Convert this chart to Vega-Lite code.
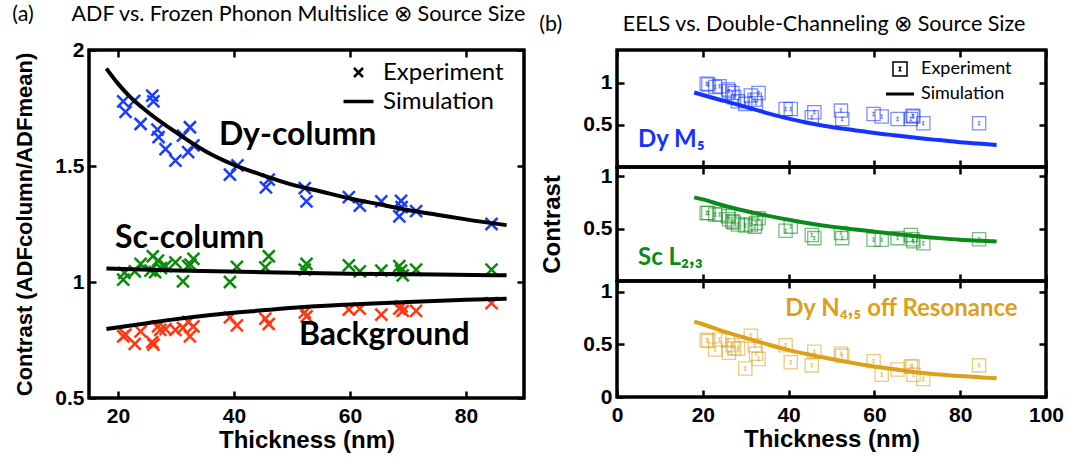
{
  "$schema": "https://vega.github.io/schema/vega-lite/v6.json",
  "padding": {"left": 12, "top": 4, "right": 4, "bottom": 4},
  "config": {
    "view": {"stroke": "black", "strokeWidth": 3},
    "axis": {"domain": false, "grid": false, "tickColor": "black", "tickWidth": 2.5, "tickSize": 7, "offset": -7, "labelPadding": 5, "labelFlush": false, "labelFont": "Liberation Sans", "labelFontWeight": "bold", "labelFontSize": 21, "labelColor": "black", "titleFont": "Liberation Sans", "titleFontWeight": "bold", "titleFontSize": 24, "titleColor": "black"},
    "axisY": {"titlePadding": 18},
    "axisX": {"titlePadding": 2, "labelPadding": 7},
    "title": {"font": "Lato", "fontSize": 21.5, "fontWeight": "normal", "color": "black", "anchor": "start", "frame": "bounds", "offset": 12}
  },
  "datasets": {
    "adf": [
      {"s": "Dy-column", "kind": "Experiment", "t": 20.9, "c": 1.779}, {"s": "Dy-column", "kind": "Experiment", "t": 21.3, "c": 1.733},
      {"s": "Dy-column", "kind": "Experiment", "t": 22.8, "c": 1.781}, {"s": "Dy-column", "kind": "Experiment", "t": 23.9, "c": 1.681},
      {"s": "Dy-column", "kind": "Experiment", "t": 25.9, "c": 1.803}, {"s": "Dy-column", "kind": "Experiment", "t": 26.1, "c": 1.779},
      {"s": "Dy-column", "kind": "Experiment", "t": 26.8, "c": 1.657}, {"s": "Dy-column", "kind": "Experiment", "t": 27.0, "c": 1.624},
      {"s": "Dy-column", "kind": "Experiment", "t": 28.2, "c": 1.573}, {"s": "Dy-column", "kind": "Experiment", "t": 29.9, "c": 1.523},
      {"s": "Dy-column", "kind": "Experiment", "t": 31.2, "c": 1.631}, {"s": "Dy-column", "kind": "Experiment", "t": 32.4, "c": 1.667},
      {"s": "Dy-column", "kind": "Experiment", "t": 32.1, "c": 1.560}, {"s": "Dy-column", "kind": "Experiment", "t": 33.0, "c": 1.589},
      {"s": "Dy-column", "kind": "Experiment", "t": 39.3, "c": 1.463}, {"s": "Dy-column", "kind": "Experiment", "t": 40.6, "c": 1.503},
      {"s": "Dy-column", "kind": "Experiment", "t": 45.5, "c": 1.408}, {"s": "Dy-column", "kind": "Experiment", "t": 46.0, "c": 1.441},
      {"s": "Dy-column", "kind": "Experiment", "t": 52.2, "c": 1.405}, {"s": "Dy-column", "kind": "Experiment", "t": 52.5, "c": 1.348},
      {"s": "Dy-column", "kind": "Experiment", "t": 59.8, "c": 1.366}, {"s": "Dy-column", "kind": "Experiment", "t": 61.7, "c": 1.329},
      {"s": "Dy-column", "kind": "Experiment", "t": 65.4, "c": 1.348}, {"s": "Dy-column", "kind": "Experiment", "t": 68.8, "c": 1.350},
      {"s": "Dy-column", "kind": "Experiment", "t": 68.9, "c": 1.323}, {"s": "Dy-column", "kind": "Experiment", "t": 68.5, "c": 1.283},
      {"s": "Dy-column", "kind": "Experiment", "t": 71.4, "c": 1.305}, {"s": "Dy-column", "kind": "Experiment", "t": 84.4, "c": 1.250},
      {"s": "Sc-column", "kind": "Experiment", "t": 20.9, "c": 1.010}, {"s": "Sc-column", "kind": "Experiment", "t": 21.1, "c": 1.039},
      {"s": "Sc-column", "kind": "Experiment", "t": 22.9, "c": 1.046}, {"s": "Sc-column", "kind": "Experiment", "t": 23.9, "c": 1.078},
      {"s": "Sc-column", "kind": "Experiment", "t": 25.6, "c": 1.049}, {"s": "Sc-column", "kind": "Experiment", "t": 26.0, "c": 1.111},
      {"s": "Sc-column", "kind": "Experiment", "t": 26.4, "c": 1.043}, {"s": "Sc-column", "kind": "Experiment", "t": 26.9, "c": 1.092},
      {"s": "Sc-column", "kind": "Experiment", "t": 27.4, "c": 1.060}, {"s": "Sc-column", "kind": "Experiment", "t": 28.2, "c": 1.068},
      {"s": "Sc-column", "kind": "Experiment", "t": 29.9, "c": 1.085}, {"s": "Sc-column", "kind": "Experiment", "t": 31.2, "c": 1.003},
      {"s": "Sc-column", "kind": "Experiment", "t": 32.1, "c": 1.068}, {"s": "Sc-column", "kind": "Experiment", "t": 32.5, "c": 1.075},
      {"s": "Sc-column", "kind": "Experiment", "t": 33.0, "c": 1.100}, {"s": "Sc-column", "kind": "Experiment", "t": 39.3, "c": 1.000},
      {"s": "Sc-column", "kind": "Experiment", "t": 40.5, "c": 1.065}, {"s": "Sc-column", "kind": "Experiment", "t": 45.4, "c": 1.063},
      {"s": "Sc-column", "kind": "Experiment", "t": 46.0, "c": 1.111}, {"s": "Sc-column", "kind": "Experiment", "t": 52.2, "c": 1.053},
      {"s": "Sc-column", "kind": "Experiment", "t": 52.5, "c": 1.078}, {"s": "Sc-column", "kind": "Experiment", "t": 59.8, "c": 1.072},
      {"s": "Sc-column", "kind": "Experiment", "t": 61.7, "c": 1.046}, {"s": "Sc-column", "kind": "Experiment", "t": 65.4, "c": 1.049},
      {"s": "Sc-column", "kind": "Experiment", "t": 68.5, "c": 1.068}, {"s": "Sc-column", "kind": "Experiment", "t": 68.8, "c": 1.049},
      {"s": "Sc-column", "kind": "Experiment", "t": 69.1, "c": 1.029}, {"s": "Sc-column", "kind": "Experiment", "t": 71.4, "c": 1.053},
      {"s": "Sc-column", "kind": "Experiment", "t": 84.4, "c": 1.053},
      {"s": "Background", "kind": "Experiment", "t": 20.9, "c": 0.766}, {"s": "Background", "kind": "Experiment", "t": 21.3, "c": 0.773},
      {"s": "Background", "kind": "Experiment", "t": 22.9, "c": 0.733}, {"s": "Background", "kind": "Experiment", "t": 23.9, "c": 0.787},
      {"s": "Background", "kind": "Experiment", "t": 25.9, "c": 0.741}, {"s": "Background", "kind": "Experiment", "t": 26.1, "c": 0.730},
      {"s": "Background", "kind": "Experiment", "t": 26.9, "c": 0.809}, {"s": "Background", "kind": "Experiment", "t": 27.3, "c": 0.794},
      {"s": "Background", "kind": "Experiment", "t": 28.2, "c": 0.797}, {"s": "Background", "kind": "Experiment", "t": 29.9, "c": 0.794},
      {"s": "Background", "kind": "Experiment", "t": 31.2, "c": 0.802}, {"s": "Background", "kind": "Experiment", "t": 32.1, "c": 0.828},
      {"s": "Background", "kind": "Experiment", "t": 32.4, "c": 0.766}, {"s": "Background", "kind": "Experiment", "t": 33.0, "c": 0.809},
      {"s": "Background", "kind": "Experiment", "t": 39.3, "c": 0.848}, {"s": "Background", "kind": "Experiment", "t": 40.5, "c": 0.813},
      {"s": "Background", "kind": "Experiment", "t": 45.4, "c": 0.842}, {"s": "Background", "kind": "Experiment", "t": 46.0, "c": 0.819},
      {"s": "Background", "kind": "Experiment", "t": 52.2, "c": 0.869}, {"s": "Background", "kind": "Experiment", "t": 52.5, "c": 0.852},
      {"s": "Background", "kind": "Experiment", "t": 59.8, "c": 0.881}, {"s": "Background", "kind": "Experiment", "t": 61.7, "c": 0.885},
      {"s": "Background", "kind": "Experiment", "t": 65.4, "c": 0.859}, {"s": "Background", "kind": "Experiment", "t": 68.5, "c": 0.885},
      {"s": "Background", "kind": "Experiment", "t": 68.9, "c": 0.895}, {"s": "Background", "kind": "Experiment", "t": 69.1, "c": 0.876},
      {"s": "Background", "kind": "Experiment", "t": 71.4, "c": 0.876}, {"s": "Background", "kind": "Experiment", "t": 84.4, "c": 0.909}
    ],
    "adfsim": [
      {"s": "Dy-column", "t": 18, "c": 1.92}, {"s": "Dy-column", "t": 20, "c": 1.855}, {"s": "Dy-column", "t": 22, "c": 1.80},
      {"s": "Dy-column", "t": 25, "c": 1.735}, {"s": "Dy-column", "t": 30, "c": 1.645}, {"s": "Dy-column", "t": 35, "c": 1.565},
      {"s": "Dy-column", "t": 40, "c": 1.505}, {"s": "Dy-column", "t": 45, "c": 1.46}, {"s": "Dy-column", "t": 50, "c": 1.42},
      {"s": "Dy-column", "t": 55, "c": 1.39}, {"s": "Dy-column", "t": 60, "c": 1.36}, {"s": "Dy-column", "t": 65, "c": 1.335},
      {"s": "Dy-column", "t": 70, "c": 1.31}, {"s": "Dy-column", "t": 75, "c": 1.29}, {"s": "Dy-column", "t": 80, "c": 1.27},
      {"s": "Dy-column", "t": 87, "c": 1.245},
      {"s": "Sc-column", "t": 18, "c": 1.058}, {"s": "Sc-column", "t": 30, "c": 1.05}, {"s": "Sc-column", "t": 45, "c": 1.042},
      {"s": "Sc-column", "t": 60, "c": 1.036}, {"s": "Sc-column", "t": 75, "c": 1.032}, {"s": "Sc-column", "t": 87, "c": 1.029},
      {"s": "Background", "t": 18, "c": 0.797}, {"s": "Background", "t": 25, "c": 0.822}, {"s": "Background", "t": 30, "c": 0.84},
      {"s": "Background", "t": 36, "c": 0.858}, {"s": "Background", "t": 45, "c": 0.878}, {"s": "Background", "t": 52, "c": 0.892},
      {"s": "Background", "t": 60, "c": 0.903}, {"s": "Background", "t": 70, "c": 0.914}, {"s": "Background", "t": 80, "c": 0.923},
      {"s": "Background", "t": 87, "c": 0.928}
    ],
    "adfnote": [
      {"label": "Dy-column", "t": 37.4, "c": 1.634},
      {"label": "Sc-column", "t": 19.5, "c": 1.19},
      {"label": "Background", "t": 51.2, "c": 0.773}
    ],
    "eels": [
      {"e": "M5", "kind": "Experiment", "t": 20.9, "v": 0.99}, {"e": "M5", "kind": "Experiment", "t": 21.3, "v": 0.98},
      {"e": "M5", "kind": "Experiment", "t": 22.9, "v": 0.95}, {"e": "M5", "kind": "Experiment", "t": 23.9, "v": 0.96},
      {"e": "M5", "kind": "Experiment", "t": 25.9, "v": 0.92}, {"e": "M5", "kind": "Experiment", "t": 26.1, "v": 0.90},
      {"e": "M5", "kind": "Experiment", "t": 26.9, "v": 0.88}, {"e": "M5", "kind": "Experiment", "t": 27.3, "v": 0.83},
      {"e": "M5", "kind": "Experiment", "t": 28.2, "v": 0.78}, {"e": "M5", "kind": "Experiment", "t": 29.9, "v": 0.75},
      {"e": "M5", "kind": "Experiment", "t": 31.2, "v": 0.85}, {"e": "M5", "kind": "Experiment", "t": 32.1, "v": 0.80},
      {"e": "M5", "kind": "Experiment", "t": 32.4, "v": 0.76}, {"e": "M5", "kind": "Experiment", "t": 33.0, "v": 0.88},
      {"e": "M5", "kind": "Experiment", "t": 39.3, "v": 0.69}, {"e": "M5", "kind": "Experiment", "t": 40.5, "v": 0.69},
      {"e": "M5", "kind": "Experiment", "t": 45.4, "v": 0.59}, {"e": "M5", "kind": "Experiment", "t": 46.0, "v": 0.65},
      {"e": "M5", "kind": "Experiment", "t": 52.2, "v": 0.67}, {"e": "M5", "kind": "Experiment", "t": 52.5, "v": 0.57},
      {"e": "M5", "kind": "Experiment", "t": 59.8, "v": 0.63}, {"e": "M5", "kind": "Experiment", "t": 61.7, "v": 0.60},
      {"e": "M5", "kind": "Experiment", "t": 65.4, "v": 0.57}, {"e": "M5", "kind": "Experiment", "t": 68.5, "v": 0.57},
      {"e": "M5", "kind": "Experiment", "t": 68.9, "v": 0.61}, {"e": "M5", "kind": "Experiment", "t": 69.1, "v": 0.60},
      {"e": "M5", "kind": "Experiment", "t": 71.4, "v": 0.52}, {"e": "M5", "kind": "Experiment", "t": 84.4, "v": 0.52},
      {"e": "L23", "kind": "Experiment", "t": 20.9, "v": 0.65}, {"e": "L23", "kind": "Experiment", "t": 21.3, "v": 0.65},
      {"e": "L23", "kind": "Experiment", "t": 22.9, "v": 0.635}, {"e": "L23", "kind": "Experiment", "t": 23.9, "v": 0.635},
      {"e": "L23", "kind": "Experiment", "t": 25.9, "v": 0.62}, {"e": "L23", "kind": "Experiment", "t": 26.1, "v": 0.59},
      {"e": "L23", "kind": "Experiment", "t": 26.9, "v": 0.57}, {"e": "L23", "kind": "Experiment", "t": 27.3, "v": 0.56},
      {"e": "L23", "kind": "Experiment", "t": 28.2, "v": 0.54}, {"e": "L23", "kind": "Experiment", "t": 29.9, "v": 0.53},
      {"e": "L23", "kind": "Experiment", "t": 31.2, "v": 0.54}, {"e": "L23", "kind": "Experiment", "t": 32.1, "v": 0.52},
      {"e": "L23", "kind": "Experiment", "t": 32.4, "v": 0.555}, {"e": "L23", "kind": "Experiment", "t": 33.0, "v": 0.60},
      {"e": "L23", "kind": "Experiment", "t": 39.3, "v": 0.48}, {"e": "L23", "kind": "Experiment", "t": 40.5, "v": 0.52},
      {"e": "L23", "kind": "Experiment", "t": 45.4, "v": 0.44}, {"e": "L23", "kind": "Experiment", "t": 46.0, "v": 0.41},
      {"e": "L23", "kind": "Experiment", "t": 52.2, "v": 0.46}, {"e": "L23", "kind": "Experiment", "t": 52.5, "v": 0.41},
      {"e": "L23", "kind": "Experiment", "t": 59.8, "v": 0.395}, {"e": "L23", "kind": "Experiment", "t": 61.7, "v": 0.395},
      {"e": "L23", "kind": "Experiment", "t": 65.4, "v": 0.41}, {"e": "L23", "kind": "Experiment", "t": 68.5, "v": 0.44},
      {"e": "L23", "kind": "Experiment", "t": 68.9, "v": 0.40}, {"e": "L23", "kind": "Experiment", "t": 69.1, "v": 0.38},
      {"e": "L23", "kind": "Experiment", "t": 71.4, "v": 0.36}, {"e": "L23", "kind": "Experiment", "t": 84.4, "v": 0.40},
      {"e": "N45", "kind": "Experiment", "t": 20.9, "v": 0.54}, {"e": "N45", "kind": "Experiment", "t": 21.3, "v": 0.53},
      {"e": "N45", "kind": "Experiment", "t": 22.9, "v": 0.45}, {"e": "N45", "kind": "Experiment", "t": 23.9, "v": 0.545},
      {"e": "N45", "kind": "Experiment", "t": 25.9, "v": 0.535}, {"e": "N45", "kind": "Experiment", "t": 26.1, "v": 0.42},
      {"e": "N45", "kind": "Experiment", "t": 26.9, "v": 0.49}, {"e": "N45", "kind": "Experiment", "t": 27.3, "v": 0.46},
      {"e": "N45", "kind": "Experiment", "t": 28.2, "v": 0.46}, {"e": "N45", "kind": "Experiment", "t": 29.9, "v": 0.27},
      {"e": "N45", "kind": "Experiment", "t": 31.2, "v": 0.58}, {"e": "N45", "kind": "Experiment", "t": 32.1, "v": 0.49},
      {"e": "N45", "kind": "Experiment", "t": 32.4, "v": 0.41}, {"e": "N45", "kind": "Experiment", "t": 33.0, "v": 0.36},
      {"e": "N45", "kind": "Experiment", "t": 39.3, "v": 0.49}, {"e": "N45", "kind": "Experiment", "t": 40.5, "v": 0.33},
      {"e": "N45", "kind": "Experiment", "t": 45.4, "v": 0.30}, {"e": "N45", "kind": "Experiment", "t": 46.0, "v": 0.43},
      {"e": "N45", "kind": "Experiment", "t": 52.2, "v": 0.41}, {"e": "N45", "kind": "Experiment", "t": 52.5, "v": 0.39},
      {"e": "N45", "kind": "Experiment", "t": 59.8, "v": 0.34}, {"e": "N45", "kind": "Experiment", "t": 61.7, "v": 0.21},
      {"e": "N45", "kind": "Experiment", "t": 65.4, "v": 0.26}, {"e": "N45", "kind": "Experiment", "t": 68.5, "v": 0.29},
      {"e": "N45", "kind": "Experiment", "t": 68.9, "v": 0.29}, {"e": "N45", "kind": "Experiment", "t": 69.1, "v": 0.21},
      {"e": "N45", "kind": "Experiment", "t": 71.4, "v": 0.17}, {"e": "N45", "kind": "Experiment", "t": 84.4, "v": 0.30}
    ],
    "eelssim": [
      {"e": "M5", "t": 18, "v": 0.885}, {"e": "M5", "t": 20, "v": 0.855}, {"e": "M5", "t": 25, "v": 0.785}, {"e": "M5", "t": 30, "v": 0.715},
      {"e": "M5", "t": 35, "v": 0.64}, {"e": "M5", "t": 40, "v": 0.575}, {"e": "M5", "t": 45, "v": 0.52}, {"e": "M5", "t": 50, "v": 0.475},
      {"e": "M5", "t": 55, "v": 0.44}, {"e": "M5", "t": 60, "v": 0.405}, {"e": "M5", "t": 65, "v": 0.375}, {"e": "M5", "t": 70, "v": 0.345},
      {"e": "M5", "t": 75, "v": 0.32}, {"e": "M5", "t": 80, "v": 0.295}, {"e": "M5", "t": 85, "v": 0.275}, {"e": "M5", "t": 88.5, "v": 0.262},
      {"e": "L23", "t": 18, "v": 0.80}, {"e": "L23", "t": 20, "v": 0.78}, {"e": "L23", "t": 25, "v": 0.72}, {"e": "L23", "t": 30, "v": 0.67},
      {"e": "L23", "t": 35, "v": 0.625}, {"e": "L23", "t": 40, "v": 0.585}, {"e": "L23", "t": 45, "v": 0.55}, {"e": "L23", "t": 50, "v": 0.52},
      {"e": "L23", "t": 55, "v": 0.495}, {"e": "L23", "t": 60, "v": 0.472}, {"e": "L23", "t": 65, "v": 0.45}, {"e": "L23", "t": 70, "v": 0.428},
      {"e": "L23", "t": 75, "v": 0.41}, {"e": "L23", "t": 80, "v": 0.395}, {"e": "L23", "t": 85, "v": 0.385}, {"e": "L23", "t": 88.5, "v": 0.378},
      {"e": "N45", "t": 18, "v": 0.715}, {"e": "N45", "t": 20, "v": 0.69}, {"e": "N45", "t": 25, "v": 0.62}, {"e": "N45", "t": 30, "v": 0.56},
      {"e": "N45", "t": 35, "v": 0.50}, {"e": "N45", "t": 40, "v": 0.445}, {"e": "N45", "t": 45, "v": 0.40}, {"e": "N45", "t": 50, "v": 0.36},
      {"e": "N45", "t": 55, "v": 0.323}, {"e": "N45", "t": 60, "v": 0.29}, {"e": "N45", "t": 65, "v": 0.26}, {"e": "N45", "t": 70, "v": 0.233},
      {"e": "N45", "t": 75, "v": 0.213}, {"e": "N45", "t": 80, "v": 0.198}, {"e": "N45", "t": 85, "v": 0.186}, {"e": "N45", "t": 88.5, "v": 0.178}
    ],
    "eelsnote": [
      {"e": "M5", "label": "Dy M₅", "t": 4.9, "v": 0.32},
      {"e": "L23", "label": "Sc L₂,₃", "t": 4.9, "v": 0.22},
      {"e": "N45", "label": "Dy N₄,₅ off Resonance", "t": 39.2, "v": 0.83}
    ]
  },
  "spacing": 12,
  "resolve": {"scale": {"shape": "independent", "color": "independent"}, "legend": {"shape": "independent", "color": "independent"}},
  "hconcat": [
    {
      "title": {"text": "(a)\u00a0\u00a0\u00a0\u00a0\u00a0\u00a0\u00a0ADF vs. Frozen Phonon Multislice ⊗ Source Size"},
      "bounds": "flush",
      "resolve": {"scale": {"shape": "independent", "color": "independent"}, "legend": {"shape": "independent", "color": "independent"}},
      "vconcat": [
        {
          "width": 435,
          "height": 348,
          "layer": [
            {
              "data": {"values": [{}]},
              "mark": {"type": "rect", "fill": "white", "fillOpacity": 0, "stroke": "black", "strokeWidth": 3},
              "encoding": {
                "x": {"datum": 15, "type": "quantitative", "scale": {"domain": [15, 90], "nice": false, "zero": false}, "axis": {"orient": "top", "labels": false, "title": null, "values": [20, 40, 60, 80]}},
                "x2": {"datum": 90},
                "y": {"datum": 0.5, "type": "quantitative", "scale": {"domain": [0.5, 2], "nice": false, "zero": false}, "axis": {"orient": "right", "labels": false, "title": null, "values": [0.5, 1, 1.5, 2]}},
                "y2": {"datum": 2}
              }
            },
            {
              "data": {"name": "adf"},
              "mark": {"type": "point", "filled": false, "strokeWidth": 2.5, "size": 1600, "opacity": 1},
              "encoding": {
                "x": {"field": "t", "type": "quantitative", "axis": {"values": [20, 40, 60, 80], "title": "Thickness (nm)"}},
                "y": {"field": "c", "type": "quantitative", "axis": {"values": [0.5, 1, 1.5, 2], "format": "~g", "title": "Contrast (ADFcolumn/ADFmean)", "titleFontSize": 22}},
                "color": {"field": "s", "type": "nominal", "scale": {"domain": ["Dy-column", "Sc-column", "Background"], "range": ["#1a3dff", "#0b8a0b", "#ff3814"]}, "legend": null},
                "shape": {"field": "kind", "type": "nominal", "scale": {"domain": ["Experiment", "Simulation"], "range": ["M-0.3,-0.3L0.3,0.3M0.3,-0.3L-0.3,0.3", "M-1,-0.04L1,-0.04M-1,0.04L1,0.04"]},
                  "legend": {"title": null, "orient": "none", "legendX": 253, "legendY": 6, "labelFont": "Lato", "labelFontSize": 24, "labelColor": "black", "symbolSize": 900, "symbolStrokeColor": "black", "symbolStrokeWidth": 2.5, "symbolFillColor": "transparent", "symbolOpacity": 1, "rowPadding": 0, "labelOffset": 8}}
              }
            },
            {
              "data": {"name": "adfsim"},
              "mark": {"type": "line", "color": "black", "strokeWidth": 4, "interpolate": "monotone"},
              "encoding": {
                "x": {"field": "t", "type": "quantitative", "axis": null},
                "y": {"field": "c", "type": "quantitative", "axis": null},
                "detail": {"field": "s"}
              }
            },
            {
              "data": {"name": "adfnote"},
              "mark": {"type": "text", "font": "Lato", "fontWeight": "bold", "fontSize": 32, "align": "left", "baseline": "middle", "color": "black"},
              "encoding": {
                "x": {"field": "t", "type": "quantitative", "axis": null},
                "y": {"field": "c", "type": "quantitative", "axis": null},
                "text": {"field": "label"}
              }
            }
          ],
          "resolve": {"axis": {"x": "independent", "y": "independent"}}
        }
      ]
    },
    {
      "title": {"text": "(b)\u00a0\u00a0\u00a0\u00a0\u00a0\u00a0\u00a0\u00a0\u00a0\u00a0\u00a0EELS vs. Double-Channeling ⊗ Source Size"},
      "spacing": 0,
      "bounds": "flush",
      "resolve": {"scale": {"shape": "independent"}, "legend": {"shape": "independent"}},
      "vconcat": [
        {
          "width": 429,
          "height": 117,
          "layer": [
            {
              "data": {"values": [{}]},
              "mark": {"type": "rect", "fill": "white", "fillOpacity": 0, "stroke": "black", "strokeWidth": 3},
              "encoding": {
                "x": {"datum": 0, "type": "quantitative", "scale": {"domain": [0, 100], "nice": false}, "axis": {"orient": "top", "labels": false, "title": null, "values": [0, 20, 40, 60, 80, 100]}},
                "x2": {"datum": 100},
                "y": {"datum": 0, "type": "quantitative", "scale": {"domain": [0, 1.39], "nice": false}, "axis": {"orient": "right", "labels": false, "title": null, "values": [0.5, 1]}},
                "y2": {"datum": 1.39}
              }
            },
            {
              "data": {"name": "eels"},
              "transform": [{"filter": "datum.e === 'M5'"}],
              "mark": {"type": "point", "filled": false, "strokeWidth": 1.3, "size": 700, "opacity": 0.55, "color": "#1433ff"},
              "encoding": {
                "x": {"field": "t", "type": "quantitative", "axis": {"values": [0, 20, 40, 60, 80, 100], "labels": false, "title": null}},
                "y": {"field": "v", "type": "quantitative", "axis": {"values": [0.5, 1], "format": "~g", "title": " "}},
                "shape": {"field": "kind", "type": "nominal", "scale": {"domain": ["Experiment", "Simulation"], "range": ["M-0.5,-0.5L0.5,-0.5L0.5,0.5L-0.5,0.5ZM0,-0.12L0,0.12M-0.1,-0.12L0.1,-0.12M-0.1,0.12L0.1,0.12", "M-1,-0.06L1,-0.06M-1,0L1,0M-1,0.06L1,0.06"]},
                  "legend": {"title": null, "orient": "none", "legendX": 268, "legendY": 4, "labelFont": "Lato", "labelFontSize": 18, "labelColor": "black", "symbolSize": 784, "symbolStrokeColor": "black", "symbolStrokeWidth": 1.5, "symbolFillColor": "transparent", "symbolOpacity": 1, "rowPadding": -5, "labelOffset": 6}}
              }
            },
            {
              "data": {"name": "eelssim"},
              "transform": [{"filter": "datum.e === 'M5'"}],
              "mark": {"type": "line", "color": "#1433ff", "strokeWidth": 4, "interpolate": "monotone"},
              "encoding": {
                "x": {"field": "t", "type": "quantitative", "axis": null},
                "y": {"field": "v", "type": "quantitative", "axis": null}
              }
            },
            {
              "data": {"name": "eelsnote"},
              "transform": [{"filter": "datum.e === 'M5'"}],
              "mark": {"type": "text", "font": "Lato", "fontWeight": "bold", "fontSize": 24, "align": "left", "baseline": "middle", "color": "#1433ff"},
              "encoding": {
                "x": {"field": "t", "type": "quantitative", "axis": null},
                "y": {"field": "v", "type": "quantitative", "axis": null},
                "text": {"field": "label"}
              }
            }
          ],
          "resolve": {"axis": {"x": "independent", "y": "independent"}}
        },
        {
          "width": 429,
          "height": 114,
          "layer": [
            {
              "data": {"values": [{}]},
              "mark": {"type": "rect", "fill": "white", "fillOpacity": 0, "stroke": "black", "strokeWidth": 3},
              "encoding": {
                "x": {"datum": 0, "type": "quantitative", "scale": {"domain": [0, 100], "nice": false}, "axis": {"orient": "top", "labels": false, "title": null, "values": [0, 20, 40, 60, 80, 100]}},
                "x2": {"datum": 100},
                "y": {"datum": 0, "type": "quantitative", "scale": {"domain": [0, 1.09], "nice": false}, "axis": {"orient": "right", "labels": false, "title": null, "values": [0.5, 1]}},
                "y2": {"datum": 1.09}
              }
            },
            {
              "data": {"name": "eels"},
              "transform": [{"filter": "datum.e === 'L23'"}],
              "mark": {"type": "point", "filled": false, "strokeWidth": 1.3, "size": 700, "opacity": 0.55, "color": "#0a8a1a"},
              "encoding": {
                "x": {"field": "t", "type": "quantitative", "axis": {"values": [0, 20, 40, 60, 80, 100], "labels": false, "title": null}},
                "y": {"field": "v", "type": "quantitative", "axis": {"values": [0.5, 1], "format": "~g", "title": "Contrast"}},
                "shape": {"field": "kind", "type": "nominal", "scale": {"domain": ["Experiment", "Simulation"], "range": ["M-0.5,-0.5L0.5,-0.5L0.5,0.5L-0.5,0.5ZM0,-0.12L0,0.12M-0.1,-0.12L0.1,-0.12M-0.1,0.12L0.1,0.12", "M-1,-0.06L1,-0.06M-1,0L1,0M-1,0.06L1,0.06"]}, "legend": null}
              }
            },
            {
              "data": {"name": "eelssim"},
              "transform": [{"filter": "datum.e === 'L23'"}],
              "mark": {"type": "line", "color": "#0a8a1a", "strokeWidth": 4, "interpolate": "monotone"},
              "encoding": {
                "x": {"field": "t", "type": "quantitative", "axis": null},
                "y": {"field": "v", "type": "quantitative", "axis": null}
              }
            },
            {
              "data": {"name": "eelsnote"},
              "transform": [{"filter": "datum.e === 'L23'"}],
              "mark": {"type": "text", "font": "Lato", "fontWeight": "bold", "fontSize": 24, "align": "left", "baseline": "middle", "color": "#0a8a1a"},
              "encoding": {
                "x": {"field": "t", "type": "quantitative", "axis": null},
                "y": {"field": "v", "type": "quantitative", "axis": null},
                "text": {"field": "label"}
              }
            }
          ],
          "resolve": {"axis": {"x": "independent", "y": "independent"}}
        },
        {
          "width": 429,
          "height": 116,
          "layer": [
            {
              "data": {"values": [{}]},
              "mark": {"type": "rect", "fill": "white", "fillOpacity": 0, "stroke": "black", "strokeWidth": 3},
              "encoding": {
                "x": {"datum": 0, "type": "quantitative", "scale": {"domain": [0, 100], "nice": false}, "axis": {"orient": "top", "labels": false, "title": null, "values": [0, 20, 40, 60, 80, 100]}},
                "x2": {"datum": 100},
                "y": {"datum": 0, "type": "quantitative", "scale": {"domain": [0, 1.1], "nice": false}, "axis": {"orient": "right", "labels": false, "title": null, "values": [0, 0.5, 1]}},
                "y2": {"datum": 1.1}
              }
            },
            {
              "data": {"name": "eels"},
              "transform": [{"filter": "datum.e === 'N45'"}],
              "mark": {"type": "point", "filled": false, "strokeWidth": 1.3, "size": 700, "opacity": 0.55, "color": "#dba01c"},
              "encoding": {
                "x": {"field": "t", "type": "quantitative", "axis": {"values": [0, 20, 40, 60, 80, 100], "title": "Thickness (nm)"}},
                "y": {"field": "v", "type": "quantitative", "axis": {"values": [0, 0.5, 1], "format": "~g", "title": " "}},
                "shape": {"field": "kind", "type": "nominal", "scale": {"domain": ["Experiment", "Simulation"], "range": ["M-0.5,-0.5L0.5,-0.5L0.5,0.5L-0.5,0.5ZM0,-0.12L0,0.12M-0.1,-0.12L0.1,-0.12M-0.1,0.12L0.1,0.12", "M-1,-0.06L1,-0.06M-1,0L1,0M-1,0.06L1,0.06"]}, "legend": null}
              }
            },
            {
              "data": {"name": "eelssim"},
              "transform": [{"filter": "datum.e === 'N45'"}],
              "mark": {"type": "line", "color": "#dba01c", "strokeWidth": 4, "interpolate": "monotone"},
              "encoding": {
                "x": {"field": "t", "type": "quantitative", "axis": null},
                "y": {"field": "v", "type": "quantitative", "axis": null}
              }
            },
            {
              "data": {"name": "eelsnote"},
              "transform": [{"filter": "datum.e === 'N45'"}],
              "mark": {"type": "text", "font": "Lato", "fontWeight": "bold", "fontSize": 24, "align": "left", "baseline": "middle", "color": "#dba01c"},
              "encoding": {
                "x": {"field": "t", "type": "quantitative", "axis": null},
                "y": {"field": "v", "type": "quantitative", "axis": null},
                "text": {"field": "label"}
              }
            }
          ],
          "resolve": {"axis": {"x": "independent", "y": "independent"}}
        }
      ]
    }
  ]
}
